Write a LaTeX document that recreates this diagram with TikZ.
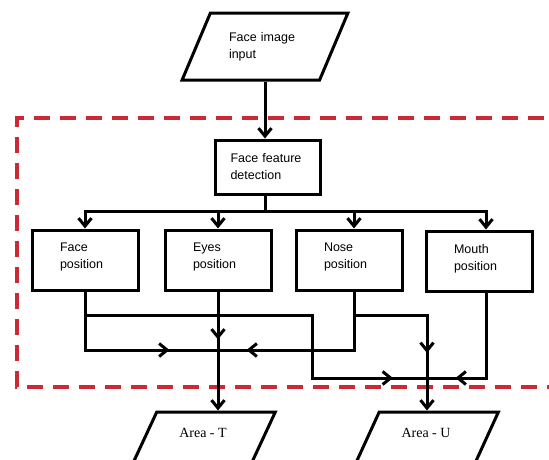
\documentclass[tikz,border=0pt]{standalone}
\usepackage{fontspec}
\setmainfont{Liberation Serif}
\setsansfont{Liberation Sans}
\usetikzlibrary{arrows.meta,positioning,shapes.geometric,decorations.markings}
\definecolor{regionred}{RGB}{204,41,54}

\begin{document}
\begin{tikzpicture}[x=1pt,y=-1pt,line width=3pt,
	>={Straight Barb[length=8pt,width=13pt]},
	block/.style={draw,rectangle,minimum height=60pt,text width=50pt,inner xsep=28pt,text depth=25pt,align=left,font=\sffamily\fontsize{12.5}{17}\selectfont},
	io/.style={draw,trapezium,trapezium stretches=true},
	midarrow/.style={postaction={decorate},decoration={markings,mark=at position #1 with {\arrow{>}}}}]
	\useasboundingbox (0,0) rectangle (549,459);
	\clip (0,0) rectangle (549,459);

	\draw[regionred,line width=4pt,dash pattern=on 16pt off 10pt] (570,118) -- (17,118) -- (17,387) -- (570,387);

	\node[io,trapezium left angle=60,trapezium right angle=120,minimum width=166pt,minimum height=67pt,text width=72pt,align=left,font=\sffamily\fontsize{12.5}{17}\selectfont] (inp) at (265,46.5) {Face image\\input};
	\node[draw,rectangle,minimum width=105pt,minimum height=54pt,text width=75pt,inner xsep=15pt,align=left,font=\sffamily\fontsize{12.5}{17}\selectfont] (det) at (268,167) {Face feature\\detection};

	\node[block] (face) at (85,260) {Face\\position};
	\node[block] (eyes) at (218,260) {Eyes\\position};
	\node[block] (nose) at (349,260) {Nose\\position};
	\node[block] (mouth) at (479,261) {Mouth\\position};

	\node[io,trapezium left angle=63,trapezium right angle=117,minimum width=145pt,minimum height=56pt,text depth=14pt,font=\fontsize{14}{16}\selectfont] (areaT) at (203,440) {Area - T};
	\node[io,trapezium left angle=63,trapezium right angle=117,minimum width=145pt,minimum height=56pt,text depth=14pt,font=\fontsize{14}{16}\selectfont] (areaU) at (426,440) {Area - U};

	\coordinate (bus) at (265,211);
	\coordinate (jT) at (218,350);
	\coordinate (jU) at (427,378);
	\coordinate (fbr) at (85,315);
	\coordinate (nbr) at (354,315);
	\coordinate (ux) at (427,315);

	\draw[->] (inp) -- (inp |- det.north);
	\draw (det.south -| bus) -- (bus);
	\draw[->] (bus) -| (face);
	\draw[->] (bus) -| (eyes);
	\draw[->] (bus) -| ([xshift=5pt]nose.north);
	\draw[->] (bus) -| ([xshift=7pt]mouth.north);

	\draw[midarrow=143pt] (face) |- (jT);
	\draw[midarrow=371pt] (fbr) -- (312,315) |- (jU);
	\draw[->,midarrow=48pt] (eyes) -- (eyes |- areaT.north);
	\draw[midarrow=166pt] ([xshift=5pt]nose.south) |- (jT);
	\draw[->,midarrow=111pt] (nbr) -- (ux) -- (ux |- areaU.north);
	\draw[midarrow=116pt] ([xshift=7pt]mouth.south) |- (jU);
\end{tikzpicture}
\end{document}
